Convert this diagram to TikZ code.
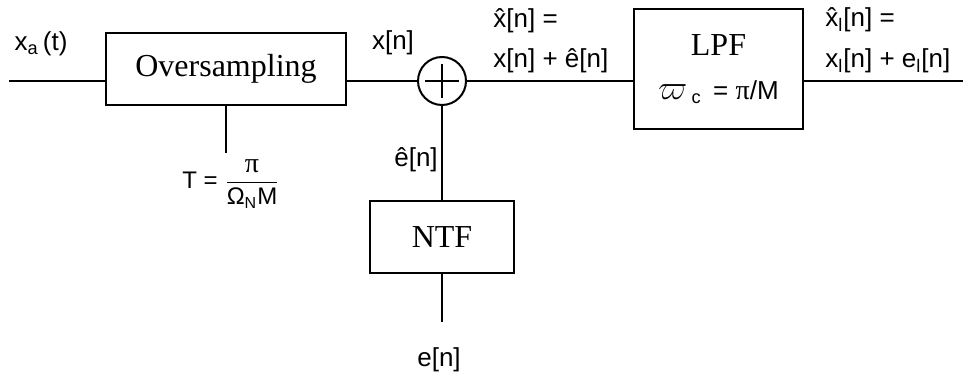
\documentclass[tikz,border=0pt]{standalone}
\usepackage{fontspec}
\setmainfont{Liberation Sans}
\newfontfamily\boxfont{Liberation Serif}
\usetikzlibrary{positioning}
\tikzset{box/.style={draw,line width=1pt,inner sep=0pt,align=center,font=\boxfont\fontsize{16}{19}\selectfont},
  lab/.style={inner sep=0pt,font=\fontsize{13}{16}\selectfont},
  sig/.style={line width=1pt}}
\newcommand{\uppi}{{\boxfont\fontsize{14}{14}\selectfont π}}

\begin{document}
\begin{tikzpicture}[x=0.5pt,y=-0.5pt]
\useasboundingbox (0,0) rectangle (963,379);
% blocks
\node[box,minimum width=120pt,minimum height=36pt] (over) at (226,69) {Oversampling};
\node[draw,circle,line width=1pt,minimum size=24pt,inner sep=0pt] (sum) at (442,81) {};
\draw[line width=1pt] ([yshift=-8.5pt]sum.center) -- ([yshift=8.5pt]sum.center)
  ([xshift=-8.5pt]sum.center) -- ([xshift=8.5pt]sum.center);
\node[box,minimum width=84.5pt,minimum height=60pt] (lpf) at (718.5,69) {LPF\\[3pt]{\normalfont\fontsize{13}{15}\selectfont{\fontsize{16}{16}\selectfont$\varpi$}\,\textsubscript{c} \,= \uppi/M}};
\node[box,minimum width=72pt,minimum height=36pt] (ntf) at (442,237) {NTF};
\coordinate (in) at (9,81);
\coordinate (out) at (963,81);
\coordinate (tend) at (226,153);
\coordinate (ein) at (442,322);
% signal lines
\draw[sig] (in) -- (in -| over.west);
\draw[sig] (over.east |- sum) -- (sum.west);
\draw[sig] (sum.east) -- (sum -| lpf.west);
\draw[sig] (lpf.east |- out) -- (out);
\draw[sig] (over.south) -- (tend);
\draw[sig] (ntf.north) -- (sum.south);
\draw[sig] (ntf.south) -- (ein);
% labels
\node[lab] (xa) at (41,44) {x\textsubscript{a}\,(t)};
\node[lab] (xn) at (393,43) {x[n]};
\node[lab,anchor=west] (xhat) at (493,21) {\^{x}[n] =};
\node[lab,anchor=west] (xsum) at (493,61) {x[n] + ê[n]};
\node[lab,anchor=west] (xlhat) at (825,20) {\^{x}\textsubscript{l}[n] =};
\node[lab,anchor=west] (xlsum) at (825,61) {x\textsubscript{l}[n] + e\textsubscript{l}[n]};
\node[lab] (ehat) at (416,160) {ê[n]};
\node[lab] (en) at (439,360) {e[n]};
\node[lab,font=\fontsize{12}{14}\selectfont] (tval) at (231,184) {T = $\displaystyle\frac{\mbox{\uppi}}{\mbox{Ω\textsubscript{N}M}}$};
\end{tikzpicture}
\end{document}
